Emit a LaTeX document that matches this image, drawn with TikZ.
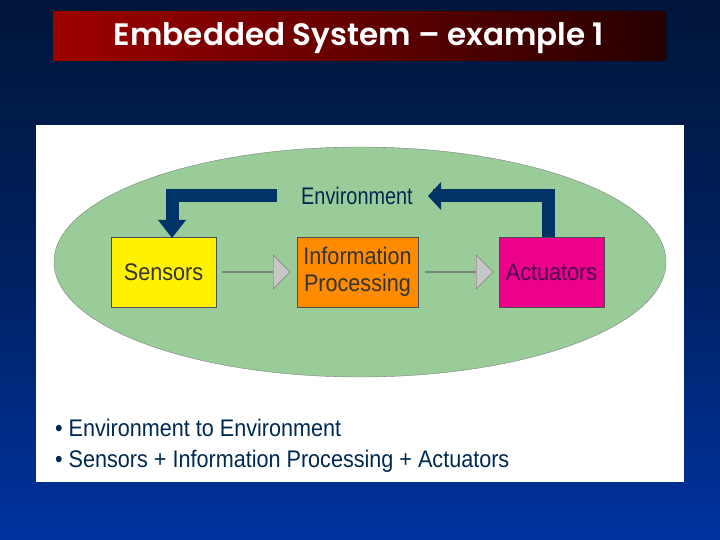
\documentclass[tikz,border=0pt]{standalone}
\usepackage{fontspec}
\setmainfont{Liberation Sans}
\newfontfamily\titlefont{Poppins}[BoldFont={* SemiBold}]
\usetikzlibrary{shapes.arrows,shapes.geometric,arrows.meta}
\definecolor{navy}{HTML}{003366}
\definecolor{bgtop}{HTML}{001538}
\definecolor{bgbot}{HTML}{0033A0}
\definecolor{ell}{HTML}{99CC99}
\tikzset{
 box/.style={draw=black!70,thin,minimum width=#1,minimum height=70pt,inner sep=1pt,font=\fontsize{24}{27}\selectfont,text=black!80},
 fat/.style={draw=navy,line width=13pt},
 gray arrow/.style={single arrow,draw=black!60,fill=black!22,minimum height=68pt,minimum width=34pt,single arrow head extend=8pt,inner sep=0pt,single arrow tip angle=90},
 txt/.style={font=\fontsize{24}{28}\selectfont,text=navy!80!black,xscale=0.9},
}
\begin{document}
\begin{tikzpicture}[x=1pt,y=-1pt]
\shade[top color=bgtop,bottom color=bgbot,middle color=bgtop!60!bgbot] (0,0) rectangle (720,540);
\useasboundingbox (0,0) rectangle (720,540);
\shade[left color=red!62!black,right color=red!15!black] (53,12) rectangle (666,61);
\node[text=white,font=\titlefont\bfseries\fontsize{31}{33}\selectfont] (title) at (359,38) {Embedded System – example 1};
\fill[white] (36,125) rectangle (684,482);
\node[draw=black!50,fill=ell,ellipse,minimum width=612pt,minimum height=230pt] (env) at (360,262) {};
\node[txt,xscale=0.92] (envt) at (357,196) {Environment};
\node[box=117pt,fill=yellow,xscale=0.9] (s) at (163.5,272) {Sensors};
\node[box=135pt,fill=orange!90!yellow,align=center,xscale=0.9] (ip) at (357.5,272) {Information\\Processing};
\node[box=117pt,fill=magenta,text=violet!60!black,xscale=0.9] (a) at (551.5,272) {Actuators};
\coordinate (lt) at (172,222);
\coordinate (rt) at (433,196);
\draw[fat] (277,196) -| (lt);
\fill[navy] (158,220) -- (186,220) -- (172,238) -- cycle;
\draw[fat] (548,237) |- (rt);
\fill[navy] (428,196) -- (441,182) -- (441,210) -- cycle;
\node[gray arrow] (g1) at (256,272) {};
\node[gray arrow] (g2) at (459,272) {};
\node[txt,anchor=west] (b1) at (52,428) {• Environment to Environment};
\node[txt,anchor=west] (b2) at (52,461) {• Sensors + Information Processing + Actuators};
\end{tikzpicture}
\end{document}
